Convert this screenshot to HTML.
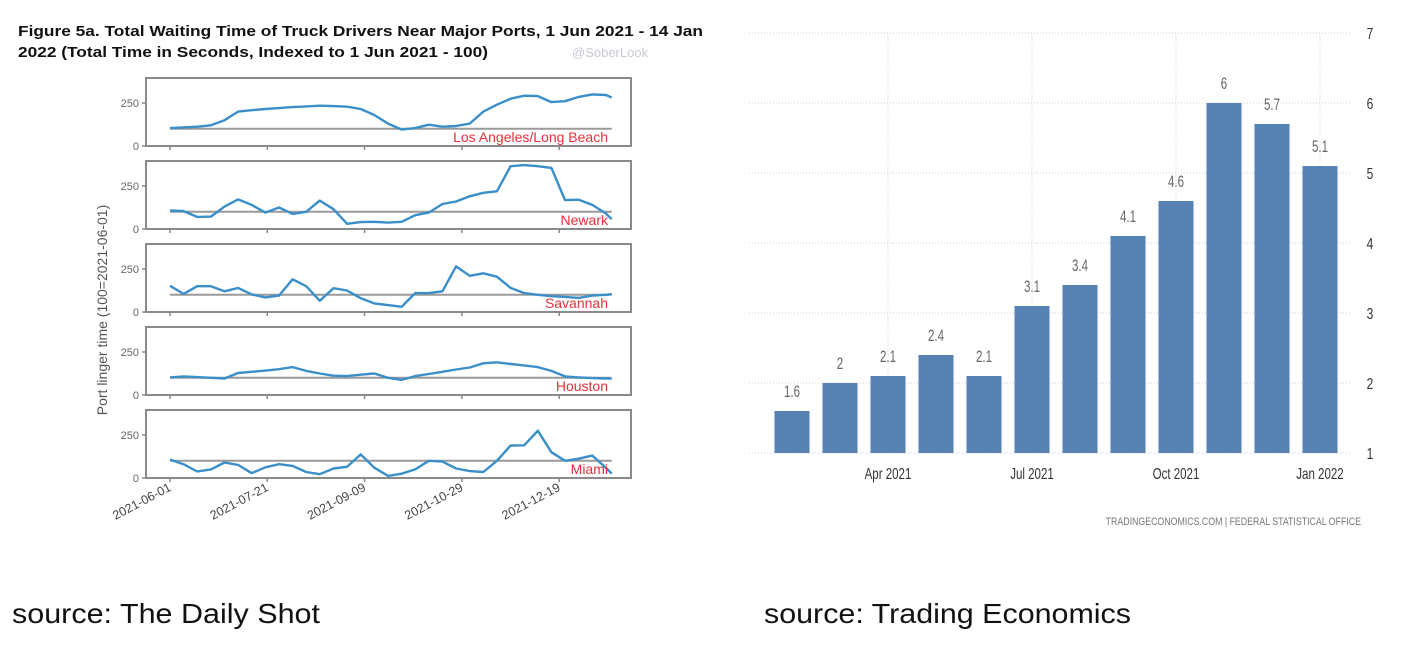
<!DOCTYPE html>
<html><head><meta charset="utf-8"><style>
body{margin:0;background:#fff;width:1405px;height:657px;overflow:hidden}
svg{display:block}
text{font-family:"Liberation Sans",sans-serif}
</style></head><body>
<svg id="s" width="1405" height="657" viewBox="0 0 1405 657">
<g id="left">
<text x="18" y="36" font-size="15" font-weight="bold" fill="#111" textLength="685" lengthAdjust="spacingAndGlyphs">Figure 5a. Total Waiting Time of Truck Drivers Near Major Ports, 1 Jun 2021 - 14 Jan</text>
<text x="18" y="57" font-size="15" font-weight="bold" fill="#111" textLength="470" lengthAdjust="spacingAndGlyphs">2022 (Total Time in Seconds, Indexed to 1 Jun 2021 - 100)</text>
<text x="572" y="57" font-size="13" fill="#c8c8d8">@SoberLook</text>
<text transform="translate(107,310) rotate(-90)" text-anchor="middle" font-size="14" fill="#555">Port linger time (100=2021-06-01)</text>
</g>
<g id="right"></g>
<text x="12" y="623" font-size="28" fill="#111" textLength="308" lengthAdjust="spacingAndGlyphs">source: The Daily Shot</text>
<text x="764" y="623" font-size="28" fill="#111" textLength="367" lengthAdjust="spacingAndGlyphs">source: Trading Economics</text>
</svg>
<script>
const NS="http://www.w3.org/2000/svg";
// ---- Left chart data ----
const days=[0,7,14,21,28,35,42,49,56,63,70,77,84,91,98,105,112,119,126,133,140,147,154,161,168,175,182,189,196,203,210,217,224,227];
const ports=["Los Angeles/Long Beach","Newark","Savannah","Houston","Miami"];
const laValues=[104,108,112,120,150,200,208,215,220,226,230,234,232,228,215,180,130,96,104,124,112,116,130,200,240,275,292,290,255,260,285,300,296,282];
const newarkValues=[108,104,70,72,130,172,140,95,125,88,100,165,115,30,40,42,37,42,80,95,145,160,190,210,219,365,371,365,355,168,170,140,90,57];
const savannahValues=[152,105,150,150,120,140,102,85,95,190,150,65,138,125,80,50,40,30,110,110,120,265,210,225,205,140,110,100,92,88,82,95,100,104];
const houstonValues=[102,108,104,100,96,128,135,142,150,162,140,125,112,110,118,125,100,88,110,122,135,148,160,184,190,180,172,162,140,108,102,98,96,95];
const miamiValues=[107,80,38,50,90,76,28,62,80,70,35,22,55,65,137,60,12,25,50,100,95,55,40,35,100,189,190,275,150,100,112,130,60,25];
const yTicks=[0,250];
const dateTicks=[0,50,100,150,200];
const dateLabels=["2021-06-01","2021-07-21","2021-09-09","2021-10-29","2021-12-19"];
// ---- Right chart data ----
const months=["Feb 2021","Mar 2021","Apr 2021","May 2021","Jun 2021","Jul 2021","Aug 2021","Sep 2021","Oct 2021","Nov 2021","Dec 2021","Jan 2022"];
const rates=[1.6,2,2.1,2.4,2.1,3.1,3.4,4.1,4.6,6,5.7,5.1];
const rateTicks=[1,2,3,4,5,6,7];
const monthTickIdx=[2,5,8,11];
const monthTickLabels=["Apr 2021","Jul 2021","Oct 2021","Jan 2022"];

function mk(tag,attrs,parent,txt){const e=document.createElementNS(NS,tag);for(const k in attrs)e.setAttribute(k,attrs[k]);if(txt!==undefined)e.textContent=txt;parent.appendChild(e);return e;}
const L=document.getElementById('left');
const series=[laValues,newarkValues,savannahValues,houstonValues,miamiValues];
const xD=d=>170+d*1.946;
const PL=146,PR=631,PH=68;
series.forEach((vals,i)=>{
  const top=78+i*83,bot=top+PH;
  const yV=v=>bot-v*(PH/395);
  const g=mk('g',{},L);
  
  
  const fr=mk('rect',{x:PL,y:top,width:PR-PL,height:PH,fill:'none',stroke:'#8a8a8a','stroke-width':2},g);
  
  
  yTicks.forEach(t=>{
    mk('line',{x1:PL-4,x2:PL,y1:yV(t),y2:yV(t),stroke:'#888','stroke-width':1.5},g);
    const tl=mk('text',{x:PL-7,y:yV(t)+4,'text-anchor':'end','font-size':11,fill:'#666'},g,String(t));
    
    
  });
  dateTicks.forEach(d=>mk('line',{x1:xD(d),x2:xD(d),y1:bot,y2:bot+4,stroke:'#888','stroke-width':1.5},g));
  const bl=mk('line',{x1:xD(0),x2:xD(227),y1:yV(100),y2:yV(100),stroke:'#9a9a9a','stroke-width':2},g);
  
  
  const pts=vals.map((v,j)=>xD(days[j]).toFixed(1)+','+yV(v).toFixed(1)).join(' ');
  const pl=mk('polyline',{points:pts,fill:'none',stroke:'#3a8fc8','stroke-width':2.4,'stroke-linejoin':'round'},g);
  
  
  const lb=mk('text',{x:608,y:bot-4,'text-anchor':'end','font-size':14,fill:'#e8303a'},g,ports[i]);
  
  
});
dateTicks.forEach((d,i)=>{
  const t=mk('text',{transform:`translate(${xD(d)+2},${490}) rotate(-28)`,'text-anchor':'end','font-size':12.5,fill:'#444'},L,dateLabels[i]);
  
  
});
// ---- right chart ----
const R=document.getElementById('right');
const yR=v=>453-(v-1)*70;
const xC=i=>792+i*48;
rateTicks.forEach(t=>{
  const gl=mk('line',{x1:749,x2:1352,y1:yR(t),y2:yR(t),stroke:'#cfcfcf','stroke-width':1,'stroke-dasharray':'1,2'},R);
  
  
  const tl=mk('text',{x:1370,y:yR(t)+6,'text-anchor':'middle','font-size':16,fill:'#333',transform:`translate(1370,0) scale(0.75,1) translate(-1370,0)`},R,String(t));
  
  
});
monthTickIdx.forEach((idx,k)=>{
  const vl=mk('line',{x1:xC(idx),x2:xC(idx),y1:yR(7),y2:yR(1),stroke:'#d5d5d5','stroke-width':1,'stroke-dasharray':'1,2'},R);
  
  
  const ml=mk('text',{x:xC(idx),y:479,'text-anchor':'middle','font-size':16,fill:'#333',transform:`translate(${xC(idx)},0) scale(0.72,1) translate(${-xC(idx)},0)`},R,monthTickLabels[k]);
  
  
});
rates.forEach((v,i)=>{
  const b=mk('rect',{x:xC(i)-17.5,y:yR(v),width:35,height:yR(1)-yR(v),fill:'#5582b3'},R);
  
  
  const vl=mk('text',{x:xC(i),y:yR(v)-14,'text-anchor':'middle','font-size':17,fill:'#666',transform:`translate(${xC(i)},0) scale(0.68,1) translate(${-xC(i)},0)`},R,String(v));
  
  
});
const src=mk('text',{x:1361,y:525,'text-anchor':'end','font-size':11,fill:'#777',transform:'translate(1361,0) scale(0.8,1) translate(-1361,0)'},R,'TRADINGECONOMICS.COM  |  FEDERAL STATISTICAL OFFICE');


</script>
</body></html>
